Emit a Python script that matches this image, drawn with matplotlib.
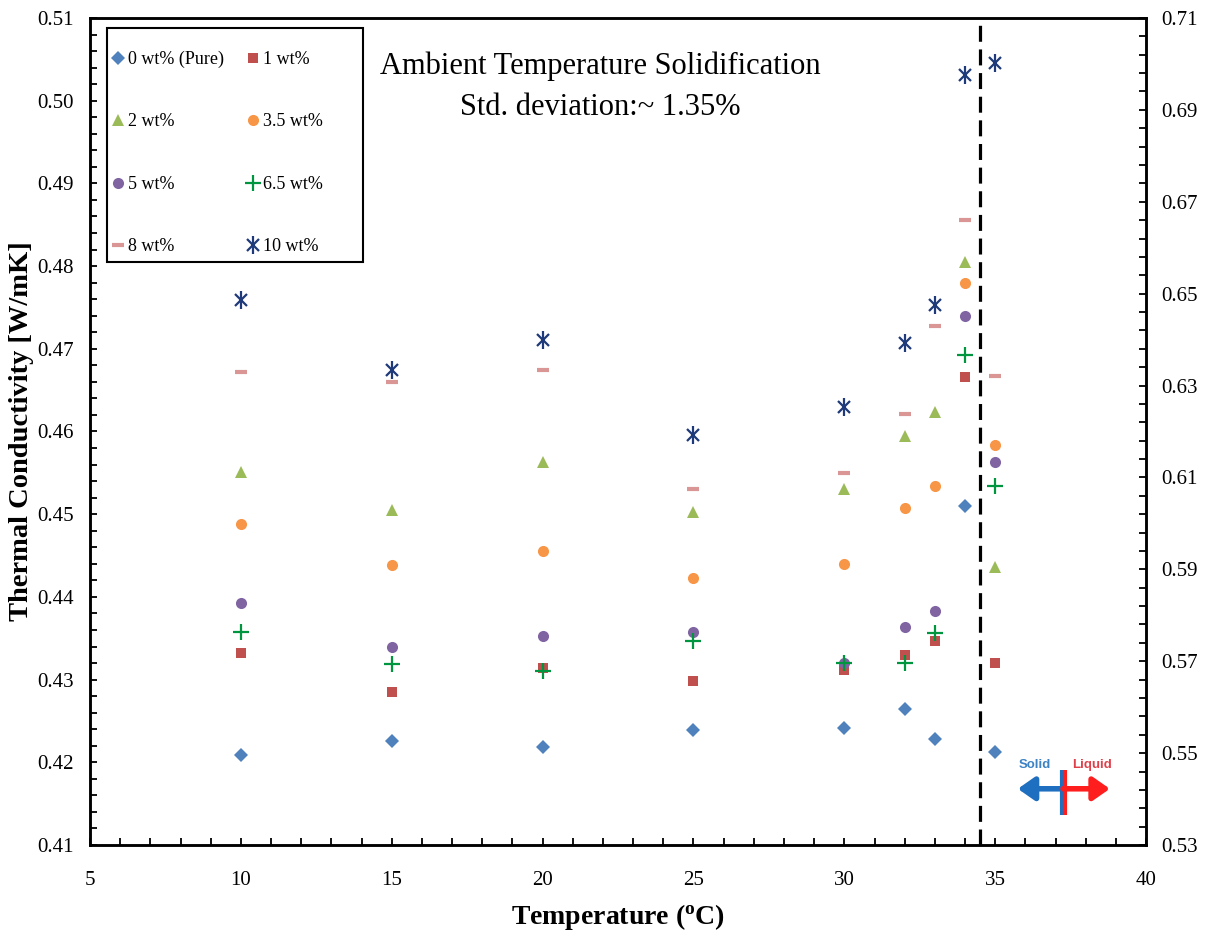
import matplotlib
matplotlib.use("Agg")
import matplotlib.pyplot as plt
from matplotlib.ticker import MultipleLocator, FormatStrFormatter
from matplotlib.patches import Rectangle
from matplotlib.legend_handler import HandlerTuple

plt.rcParams['font.family'] = ['Liberation Serif', 'DejaVu Serif']
plt.rcParams['mathtext.fontset'] = 'custom'
plt.rcParams['mathtext.rm'] = 'Liberation Serif'

# ---------------- data ----------------
temperature = [10, 15, 20, 25, 30, 32, 33, 34, 35]
series_labels = ['0 wt% (Pure)', '1 wt%', '2 wt%', '3.5 wt%', '5 wt%', '6.5 wt%', '8 wt%', '10 wt%']

k_0wt   = [0.4209, 0.4226, 0.4219, 0.4239, 0.4242, 0.4264, 0.4228, 0.4510, 0.4212]
k_1wt   = [0.4332, 0.4285, 0.4314, 0.4298, 0.4312, 0.4330, 0.4347, 0.4666, 0.4320]
k_2wt   = [0.4551, 0.4505, 0.4563, 0.4503, 0.4530, 0.4595, 0.4623, 0.4805, 0.4436]
k_3_5wt = [0.4488, 0.4439, 0.4456, 0.4423, 0.4440, 0.4507, 0.4534, 0.4779, 0.4584]
k_5wt   = [0.4393, 0.4339, 0.4353, 0.4358, 0.4320, 0.4364, 0.4383, 0.4740, 0.4563]
k_6_5wt = [0.4358, 0.4319, 0.4310, 0.4347, 0.4320, 0.4320, 0.4356, 0.4692, 0.4534]
k_8wt   = [0.4672, 0.4660, 0.4674, 0.4530, 0.4550, 0.4621, 0.4728, 0.4856, 0.4667]
k_10wt  = [0.4759, 0.4674, 0.4711, 0.4596, 0.4630, 0.4707, 0.4753, 0.5031, 0.5046]

phase_boundary = 34.5

all_series = [k_0wt, k_1wt, k_2wt, k_3_5wt, k_5wt, k_6_5wt, k_8wt, k_10wt]
styles = [
    dict(marker='D', color='#4F81BD', ms=7.5, mew=0),
    dict(marker='s', color='#C0504D', ms=7.5, mew=0),
    dict(marker='^', color='#9BBB59', ms=8.5, mew=0),
    dict(marker='o', color='#F79646', ms=8, mew=0),
    dict(marker='o', color='#8064A2', ms=8, mew=0),
    dict(marker='+', color='#00963F', ms=11, mew=1.6),
    dict(marker='_', color='#D99694', ms=8, mew=3),
    dict(marker='x', color='#1F3A7A', ms=9, mew=1.6),
]

fig = plt.figure(figsize=(12.07, 9.41), dpi=100)
ax = fig.add_axes([0.0746, 0.102, 0.8749, 0.8789])

handles = []
for vals, lab, st in zip(all_series, series_labels, styles):
    h, = ax.plot(temperature, vals, linestyle='none', label=lab, **st)
    handles.append(h)
# the 10 wt% asterisk also has a vertical stroke
hbar, = ax.plot(temperature, k_10wt, linestyle='none', marker='|', color='#1F3A7A', ms=13, mew=1.6)
handles[7] = (handles[7], hbar)

ax.set_xlim(5, 40)
ax.set_ylim(0.41, 0.51)
ax.xaxis.set_major_locator(MultipleLocator(5))
ax.xaxis.set_minor_locator(MultipleLocator(1))
ax.yaxis.set_major_locator(MultipleLocator(0.01))
ax.yaxis.set_minor_locator(MultipleLocator(0.002))
ax.yaxis.set_major_formatter(FormatStrFormatter('%.2f'))
ax.tick_params(which='both', direction='in', length=5, width=1.3, labelsize=15)
ax.tick_params(axis='y', which='both', pad=12)
ax.tick_params(axis='x', which='both', pad=19)
for sp in ax.spines.values():
    sp.set_linewidth(1.8)

ax2 = ax.twinx()
ax2.set_ylim(0.53, 0.71)
ax2.yaxis.set_major_locator(MultipleLocator(0.02, offset=0.01))
ax2.yaxis.set_minor_locator(MultipleLocator(0.004, offset=0.002))
ax2.yaxis.set_major_formatter(FormatStrFormatter('%.2f'))
ax2.tick_params(which='both', direction='in', length=5, width=1.3, labelsize=15, pad=11)
for sp in ax2.spines.values():
    sp.set_linewidth(1.8)

ax.set_xlabel(r'Temperature ($\mathregular{^{o}}$C)', fontsize=20, fontweight='bold', labelpad=8)
ax.set_ylabel('Thermal Conductivity [W/mK]', fontsize=20.5, fontweight='bold', labelpad=2)

ax.axvline(phase_boundary, color='black', lw=2.3, ls=(0, (5, 2.4)))

ax.text(0.483, 0.96, 'Ambient Temperature Solidification\nStd. deviation:~ 1.35%',
        transform=ax.transAxes, ha='center', va='top', fontsize=22, linespacing=1.55)

order = [0, 2, 4, 6, 1, 3, 5, 7]
leg = ax.legend([handles[i] for i in order], [series_labels[i] for i in order],
                handler_map={tuple: HandlerTuple(ndivide=1)},
                ncol=2, loc='upper left', bbox_to_anchor=(0.0213, 0.9605),
                fontsize=13, frameon=False, labelspacing=2.52, handlelength=0.6,
                handletextpad=0.25, columnspacing=1.3, borderpad=0,
                borderaxespad=0)
ax.add_patch(Rectangle((0.0161, 0.7049), 0.2424, 0.2830, transform=ax.transAxes,
                       fill=False, edgecolor='black', lw=1.5, zorder=5))

# Solid / Liquid indicator
ybar = 0.4168
ax.annotate('', xy=(35.75, ybar), xytext=(37.25, ybar),
            arrowprops=dict(arrowstyle='-|>,head_length=0.5,head_width=0.35', color='#1F6FC0', lw=4,
                            shrinkA=0, shrinkB=0, mutation_scale=20))
ax.annotate('', xy=(38.8, ybar), xytext=(37.25, ybar),
            arrowprops=dict(arrowstyle='-|>,head_length=0.5,head_width=0.35', color='#FF1E1E', lw=4,
                            shrinkA=0, shrinkB=0, mutation_scale=20))
ax.plot([37.2, 37.2], [0.4136, 0.4191], color='#1F6FC0', lw=3, solid_capstyle='butt')
ax.plot([37.3, 37.3], [0.4136, 0.4191], color='#FF1E1E', lw=3, solid_capstyle='butt')
ax.text(36.3, 0.4197, 'Solid', color='#3C82C4', fontsize=9.5, fontweight='bold',
        family=['Liberation Sans', 'DejaVu Sans'], ha='center', va='center')
ax.text(38.2, 0.4197, 'Liquid', color='#E0404A', fontsize=9.5, fontweight='bold',
        family=['Liberation Sans', 'DejaVu Sans'], ha='center', va='center')

fig.savefig('out.png', dpi=100)
